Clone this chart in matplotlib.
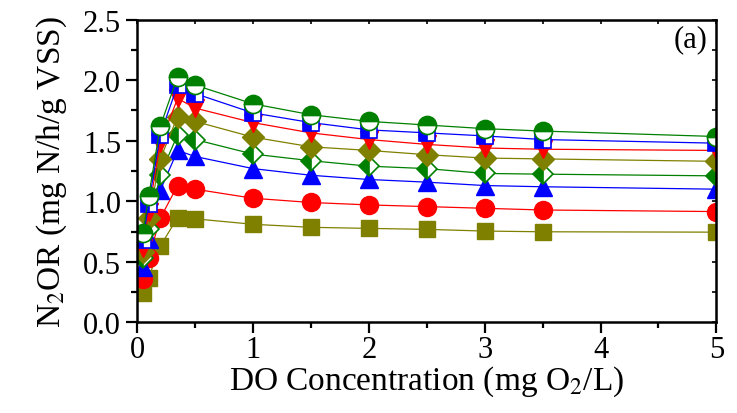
import matplotlib
matplotlib.use("Agg")
import matplotlib.pyplot as plt
from matplotlib.ticker import MultipleLocator

plt.rcParams['font.family'] = ['Liberation Serif', 'DejaVu Serif']
plt.rcParams['mathtext.fontset'] = 'stix'

# DO concentration (mg O2/L)
do_conc = [0.05, 0.1, 0.2, 0.35, 0.5, 1, 1.5, 2, 2.5, 3, 3.5, 5]

# N2OR series (mg N/h/g VSS), bottom to top
olive_sq = [0.24, 0.37, 0.63, 0.865, 0.855, 0.81, 0.785, 0.776, 0.768, 0.754, 0.748, 0.745]
red_circ = [0.36, 0.53, 0.86, 1.13, 1.10, 1.025, 0.99, 0.97, 0.956, 0.942, 0.928, 0.915]
blue_up = [0.46, 0.69, 1.09, 1.42, 1.37, 1.27, 1.215, 1.18, 1.158, 1.13, 1.12, 1.10]
green_dia = [0.53, 0.77, 1.22, 1.55, 1.51, 1.39, 1.335, 1.29, 1.27, 1.23, 1.224, 1.21]
olive_dia = [0.58, 0.86, 1.35, 1.70, 1.66, 1.53, 1.45, 1.42, 1.385, 1.357, 1.35, 1.33]
red_down = [0.61, 0.91, 1.48, 1.85, 1.77, 1.65, 1.565, 1.51, 1.47, 1.44, 1.43, 1.42]
blue_sq = [0.68, 0.98, 1.55, 1.96, 1.89, 1.73, 1.65, 1.59, 1.565, 1.54, 1.51, 1.48]
green_circ = [0.735, 1.04, 1.62, 2.03, 1.96, 1.805, 1.715, 1.66, 1.63, 1.60, 1.58, 1.535]

fig = plt.figure(figsize=(7.37, 4.14), dpi=100)
ax = fig.add_axes([0.186, 0.219, 0.786, 0.731])

lw = 0.9
ax.plot(do_conc, olive_sq, '-s', color='#808000', lw=lw, ms=12)
ax.plot(do_conc, red_circ, '-o', color='#FF0000', lw=lw, ms=13)
ax.plot(do_conc, blue_up, '-^', color='#0000FF', lw=lw, ms=13)
ax.plot(do_conc, green_dia, '-D', color='#008000', lw=lw, ms=10,
        fillstyle='left', markerfacecoloralt='white', mew=1.2)
ax.plot(do_conc, olive_dia, '-D', color='#808000', lw=lw, ms=11)
ax.plot(do_conc, red_down, '-v', color='#FF0000', lw=lw, ms=13)
ax.plot(do_conc, blue_sq, '-s', color='#0000FF', lw=lw, ms=12,
        fillstyle='left', markerfacecoloralt='white', mew=1.2)
ax.plot(do_conc, green_circ, '-o', color='#008000', lw=lw, ms=13,
        fillstyle='top', markerfacecoloralt='white', mew=1.2)

ax.set_xlim(0, 5)
ax.set_ylim(0, 2.5)
ax.xaxis.set_major_locator(MultipleLocator(1))
ax.xaxis.set_minor_locator(MultipleLocator(0.5))
ax.yaxis.set_major_locator(MultipleLocator(0.5))
ax.yaxis.set_minor_locator(MultipleLocator(0.25))
ax.yaxis.set_major_formatter('{x:.1f}')

for s in ax.spines.values():
    s.set_linewidth(1.8)
ax.tick_params(which='major', direction='out', length=8, width=1.6, labelsize=22)
ax.tick_params(which='minor', direction='out', length=4, width=1.6)
ax.tick_params(axis='x', which='major', pad=1)

# inward ticks on the right and top
ay2 = ax.secondary_yaxis('right')
ay2.yaxis.set_major_locator(MultipleLocator(0.5))
ay2.yaxis.set_minor_locator(MultipleLocator(0.25))
ay2.tick_params(which='both', direction='in', length=3, width=1.2, labelright=False)
ax2 = ax.secondary_xaxis('top')
ax2.xaxis.set_major_locator(MultipleLocator(1))
ax2.xaxis.set_minor_locator(MultipleLocator(0.5))
ax2.tick_params(which='both', direction='in', length=3, width=1.2, labeltop=False)

ax.set_xlabel('DO Concentration (mg O$_2$/L)', fontsize=24, labelpad=0)
ax.set_ylabel('N$_2$OR (mg N/h/g VSS)', fontsize=24, labelpad=10)
ax.text(0.985, 0.985, '(a)', transform=ax.transAxes, ha='right', va='top', fontsize=22)

fig.savefig('out.png', dpi=100)
